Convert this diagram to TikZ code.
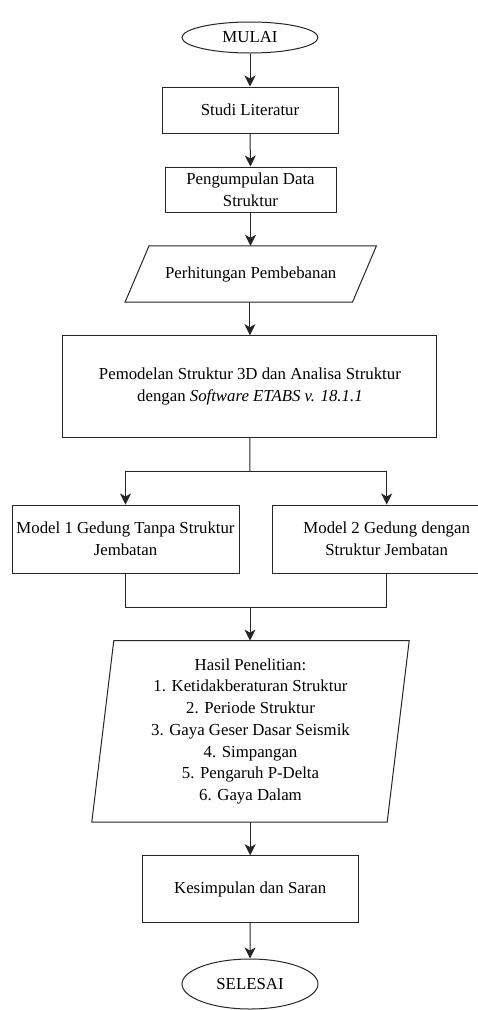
\documentclass[tikz,border=0pt]{standalone}
\usepackage{fontspec}
\setmainfont{Liberation Serif}
\newfontfamily\flowfont{Liberation Serif}
\usetikzlibrary{shapes.geometric,arrows.meta}
\begin{document}
\begin{tikzpicture}[x=1pt,y=-1pt,
  every node/.style={font=\flowfont\fontsize{16.8}{21.7}\selectfont, align=center, inner sep=0pt},
  line/.style={draw=black!85, line width=1pt},
  arr/.style={line, -{Stealth[length=11pt,width=11pt,inset=3pt]}},
  term/.style={ellipse, line, minimum width=136pt},
  box/.style={rectangle, line},
  ptext/.style={rectangle, draw=none}
]
\useasboundingbox (0,0) rectangle (478,1010);
\clip (0,0) rectangle (478,1010);
\fill[white] (0,0) rectangle (478,1010);

\node[term, minimum height=31pt] (mulai) at (250,37.5) {MULAI};
\node[box, minimum width=176pt, minimum height=46pt] (studi) at (250,110) {Studi Literatur};
\node[box, minimum width=171pt, minimum height=45pt] (data) at (250.5,189.5) {Pengumpulan Data\\Struktur};
\node[ptext, minimum width=227pt, minimum height=56pt] (beban) at (250.75,274) {Perhitungan Pembebanan};
\draw[line] ([xshift=-12pt]beban.south west) -- ([xshift=12pt]beban.north west) -- ([xshift=12pt]beban.north east) -- ([xshift=-12pt]beban.south east) -- cycle;
\node[box, minimum width=374pt, minimum height=101.6pt] (model) at (249.9,386.5) {Pemodelan Struktur 3D dan Analisa Struktur\\dengan \textit{Software ETABS v. 18.1.1}};
\node[box, minimum width=227pt, minimum height=68pt] (left) at (125.5,539) {Model 1 Gedung Tanpa Struktur\\Jembatan};
\node[box, minimum width=228pt, minimum height=68pt] (right) at (386.7,539) {Model 2 Gedung dengan\\Struktur Jembatan};
\node[ptext, minimum width=295pt, minimum height=181pt] (hasil) at (250.5,731.3) {Hasil Penelitian:\\1. Ketidakberaturan Struktur\\2. Periode Struktur\\3. Gaya Geser Dasar Seismik\\4. Simpangan\\5. Pengaruh P-Delta\\6. Gaya Dalam};
\draw[line] ([xshift=-11pt]hasil.south west) -- ([xshift=11pt]hasil.north west) -- ([xshift=11pt]hasil.north east) -- ([xshift=-11pt]hasil.south east) -- cycle;
\node[box, minimum width=215.7pt, minimum height=67pt] (kes) at (250.2,889.2) {Kesimpulan dan Saran};
\node[term, minimum height=50pt] (selesai) at (250,984) {SELESAI};

\coordinate (split) at (250,471.7);
\coordinate (join) at (250,607.3);

\draw[arr] (mulai.south) -- (studi.north);
\draw[arr] (studi.south) -- (data.north);
\draw[arr] (data.south) -- (data.south |- beban.north);
\draw[arr] (beban.south -| model.north) -- (model.north);
\draw[line] (model.south) -- (split);
\draw[arr] (split) -| (left.north);
\draw[arr] (split) -| (right.north);
\draw[line] (left.south) |- (join) -| (right.south);
\draw[arr] (join) -- (join |- hasil.north);
\draw[arr] (hasil.south -| kes.north) -- (kes.north);
\draw[arr] (kes.south) -- (selesai.north);
\end{tikzpicture}
\end{document}
